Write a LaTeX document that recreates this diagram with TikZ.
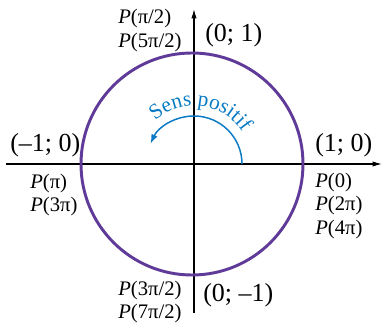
\documentclass[tikz,border=0pt]{standalone}
\usepackage{fontspec}
\setmainfont{Liberation Serif}
\usepackage{tikz}
\usetikzlibrary{arrows.meta,decorations.text}

\definecolor{cerclepurple}{RGB}{96,58,152}
\definecolor{sensblue}{RGB}{10,122,196}

\tikzset{
  coordlabel/.style={font=\fontsize{19.5}{22}\selectfont, inner sep=0pt, anchor=west},
  pointlabel/.style={font=\fontsize{15.5}{17.5}\selectfont, inner sep=0pt, anchor=west, align=left},
  axis/.style={line width=0.9pt, -{Latex[length=7pt,width=4pt]}}
}

\begin{document}
\begin{tikzpicture}[x=0.75pt,y=0.75pt,>=Latex]
    \useasboundingbox (0,0) rectangle (383,329);

    \coordinate (O) at (194,165);
    \coordinate (C) at (192,165);
    \coordinate (xmin) at (6,165);
    \coordinate (xmax) at (382,165);
    \coordinate (ymin) at (194,16);
    \coordinate (ymax) at (194,320);

    \draw[axis] (xmin) -- (xmax);
    \draw[axis] (ymin) -- (ymax);

    \draw[cerclepurple, line width=2.2pt] (C) circle[radius=111];

    \draw[
      sensblue,
      line width=1.1pt,
      -{Latex[length=7pt,width=5pt]}
    ] ([shift={(0:48)}]O) arc[start angle=0, end angle=155, radius=48];

    \path[
      decorate,
      decoration={
        text along path,
        text={|\fontsize{16}{18}\selectfont|Sens positif},
        text align=center,
        text color=sensblue
      }
    ] ([shift={(140:58)}]O) arc[start angle=140, end angle=25, radius=58];

    \foreach \nm/\x/\y/\txt in {right/315/184/{(1; 0)},left/10/184/{(–1; 0)},top/205/294/{(0; 1)},bottom/203/34/{(0; –1)}} {
      \node[coordlabel] (c\nm) at (\x,\y) {\txt};
    }

    \node[pointlabel] (phalf) at (118,298.5) {\textit{P}(π/2)\\\textit{P}(5π/2)};
    \node[pointlabel] (ppi) at (30,134) {\textit{P}(π)\\\textit{P}(3π)};
    \node[pointlabel] (pzero) at (315,123) {\textit{P}(0)\\\textit{P}(2π)\\\textit{P}(4π)};
    \node[pointlabel] (pthree) at (118,27) {\textit{P}(3π/2)\\\textit{P}(7π/2)};
  \end{tikzpicture}
\end{document}
